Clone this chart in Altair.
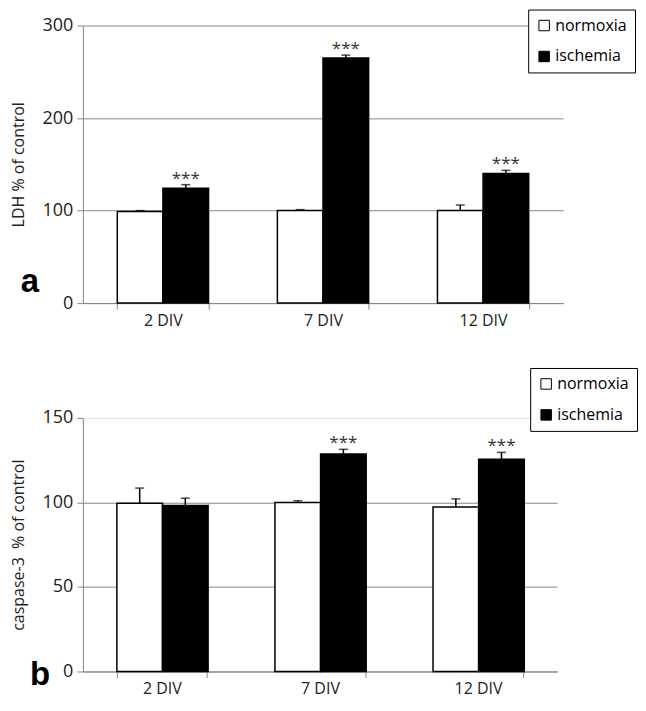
import altair as alt
import pandas as pd

FONT = "Open Sans"

categories = ["2 DIV", "7 DIV", "12 DIV"]
groups = ["normoxia", "ischemia"]

ldh_normoxia = [99, 100, 100]
ldh_normoxia_err = [1, 1, 6]
ldh_ischemia = [124, 265, 140]
ldh_ischemia_err = [4, 3, 3.5]
ldh_stars = ["***", "***", "***"]

casp_normoxia = [99.5, 100, 97.3]
casp_normoxia_err = [9, 1, 4.8]
casp_ischemia = [98.2, 128.7, 125.6]
casp_ischemia_err = [4.3, 2.7, 4.0]
casp_stars = ["", "***", "***"]


def make_df(norm, norm_err, isch, isch_err, stars):
    rows = []
    for i, c in enumerate(categories):
        rows.append({"cat": c, "group": "normoxia", "value": norm[i],
                     "top": norm[i] + norm_err[i], "star": ""})
        rows.append({"cat": c, "group": "ischemia", "value": isch[i],
                     "top": isch[i] + isch_err[i], "star": stars[i]})
    return pd.DataFrame(rows)


def panel(df, ymax, yvals, title, letter, w, h, legend_x, legend_y, grid_color,
          letter_x, letter_y):
    base = alt.Chart(df)
    x = alt.X("cat:N", sort=categories, title=None,
              scale=alt.Scale(paddingInner=0.43, paddingOuter=0.215),
              axis=alt.Axis(labelAngle=0, tickBand="extent", domainColor="#888",
                            tickColor="#888", tickSize=6, labelFontSize=16,
                            labelFont=FONT, labelColor="#222", labelPadding=3))
    xo = alt.XOffset("group:N", sort=groups,
                     scale=alt.Scale(paddingInner=0, paddingOuter=0))
    y = alt.Y("value:Q", scale=alt.Scale(domain=[0, ymax], nice=False),
              axis=alt.Axis(values=yvals, grid=True, gridColor=grid_color,
                            domainColor="#888", tickColor="#888", tickSize=6,
                            labelFontSize=18, labelFont=FONT, labelColor="#222",
                            labelPadding=4, title=title, titleFontSize=16,
                            titleFont=FONT, titleFontWeight="normal",
                            titleColor="#222", titlePadding=16))
    bars = base.mark_bar(stroke="black", strokeWidth=1.5).encode(
        x=x, xOffset=xo, y=y,
        fill=alt.Fill("group:N", sort=groups,
                      scale=alt.Scale(domain=groups, range=["white", "black"]),
                      legend=alt.Legend(title=None, orient="none", legendX=legend_x,
                                        legendY=legend_y, direction="vertical",
                                        symbolType="square", symbolSize=110,
                                        symbolStrokeColor="black", symbolStrokeWidth=1,
                                        labelFontSize=16, labelFont=FONT,
                                        labelColor="black", strokeColor="black",
                                        fillColor="white", padding=8, rowPadding=15,
                                        labelOffset=3)))
    rules = base.mark_rule(color="black", strokeWidth=1.5).encode(
        x=x, xOffset=xo, y="value:Q", y2="top:Q")
    caps = base.mark_tick(color="black", thickness=1.5, size=9).encode(
        x=x, xOffset=xo, y="top:Q")
    stars = base.mark_text(font=FONT, fontSize=17, color="#333", baseline="alphabetic",
                           dy=-1).encode(x=x, xOffset=xo, y="top:Q", text="star:N")
    lab = alt.Chart(pd.DataFrame({"t": [letter]})).mark_text(
        font="Liberation Sans", fontSize=33, fontWeight="bold", color="black",
        align="center", baseline="alphabetic").encode(
        x=alt.value(letter_x), y=alt.value(letter_y), text="t:N")
    return alt.layer(bars, rules, caps, stars, lab).properties(width=w, height=h)


df_a = make_df(ldh_normoxia, ldh_normoxia_err, ldh_ischemia, ldh_ischemia_err, ldh_stars)
df_b = make_df(casp_normoxia, casp_normoxia_err, casp_ischemia, casp_ischemia_err, casp_stars)

grid_b = alt.condition("datum.value == 150", alt.value("#ddd"), alt.value("#888"))

chart_a = panel(df_a, 300, [0, 100, 200, 300], "LDH % of control", "a",
                481, 278, 446, -16, "#888", -53, 267)
chart_b = panel(df_b, 150, [0, 50, 100, 150], "caspase-3 \u00a0% of control", "b",
                475, 254, 448, -50, grid_b, -43, 268)

chart = alt.vconcat(chart_a, chart_b, spacing=39).properties(
    padding={"left": 2, "top": 0, "right": 0, "bottom": 3}).configure_view(
    stroke=None).resolve_scale(fill="independent")

chart.save("out.html", embed_options={"renderer": "svg", "actions": False})
